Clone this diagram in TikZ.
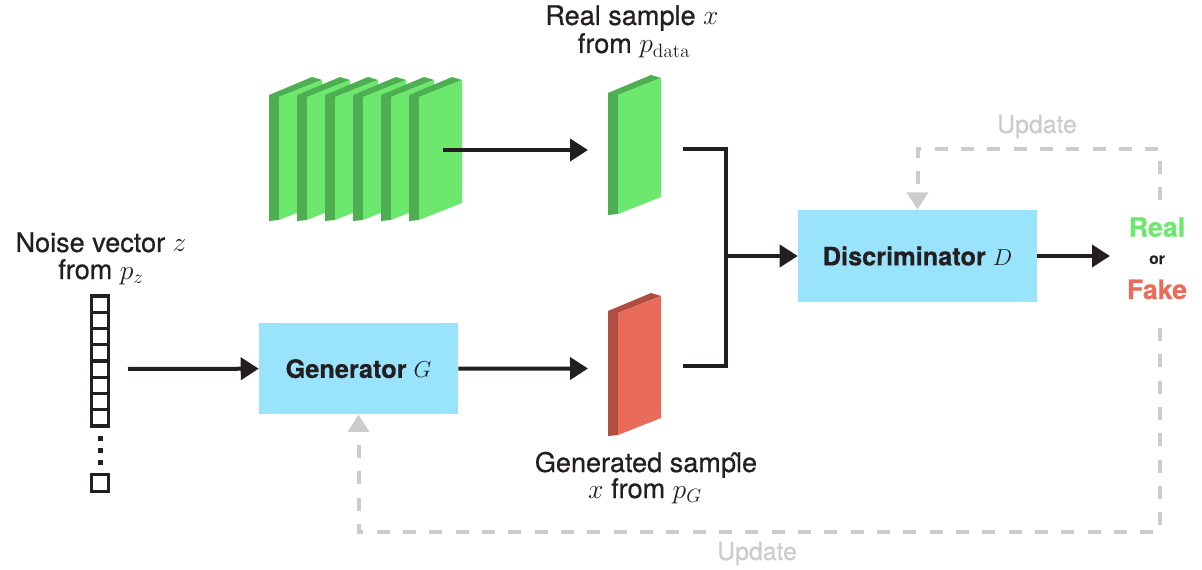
\documentclass[tikz,border=0pt]{standalone}
\usepackage[no-math]{fontspec}
\setmainfont{TeX Gyre Heros}[BoldFeatures={FakeBold=0.5}]
\newfontfamily\medfont{TeX Gyre Heros}[FakeBold=0.6]
\usetikzlibrary{arrows.meta}
\definecolor{ink}{HTML}{231F20}
\definecolor{glight}{HTML}{6DE86F}
\definecolor{gdark}{HTML}{4DAF52}
\definecolor{rlight}{HTML}{E96C5B}
\definecolor{rdark}{HTML}{B04E41}
\definecolor{boxblue}{HTML}{9AE3FD}
\definecolor{dgray}{HTML}{CCCCCC}
\newcommand\slabdraw[5]{%
  \fill[#5] (#1-10,#2+1) -- (#1-10,#2-#3-2) -- (#1+33,#2-#3-20) -- (#1+43,#2-#3-17) -- (#1,#2-#3) -- (#1,#2) -- cycle;
  \fill[#4] (#1,#2) -- (#1,#2-#3) -- (#1+43,#2-#3-17) -- (#1+43,#2-17) -- cycle;
}
\tikzset{
  arr/.style={line width=3pt, draw=ink, -{Triangle[length=13.5pt,width=16.5pt]}},
  plain/.style={line width=3pt, draw=ink, line join=miter},
  darr/.style={line width=3pt, draw=dgray, dash pattern=on 9.75pt off 10pt, -{Triangle[length=13pt,width=15.5pt]}},
  blockbox/.style={fill=boxblue, draw=none, inner sep=0pt, text=ink, font=\fontsize{19}{22}\selectfont\bfseries},
  lbl/.style={anchor=base, inner sep=0pt, text=ink, font=\fontsize{20.3}{24}\selectfont\medfont},
  updlbl/.style={anchor=base, inner sep=0pt, text=dgray, font=\fontsize{18.6}{22}\selectfont\medfont},
  cell/.style={draw=ink, line width=2.3pt, minimum width=12.2pt, minimum height=12.2pt, inner sep=0pt},
}
\begin{document}
\begin{tikzpicture}[x=0.75pt,y=-0.75pt]
\useasboundingbox (0,0) rectangle (1202,570);
\fill[white] (0,0) rectangle (1202,570);

% green stack
\foreach \k in {0,...,5}{\slabdraw{279+28*\k}{220}{123}{glight}{gdark}}
% real sample slab
\slabdraw{618}{214}{119}{glight}{gdark}
% generated sample slab
\slabdraw{618}{435}{122}{rlight}{rdark}

% boxes
\node[blockbox, minimum width=149.25pt, minimum height=68.25pt] (G) at (358.5,368.7) {Generator $G$};
\node[blockbox, minimum width=179.25pt, minimum height=69pt] (D) at (917.5,256) {Discriminator $D$};

% noise vector
\foreach \i in {0,...,7}{\node[cell] (c\i) at (100,304.1+16.25*\i) {};}
\node[cell] (clast) at (100,483) {};
\foreach \yy in {438,450,462}{\fill[ink] (98,\yy-2.5) rectangle (102.5,\yy+2.5);}

% labels
\node[lbl] (noise1) at (101,252) {Noise vector $z$};
\node[lbl] (noise2) at (101,279) {from $p_z$};
\node[lbl] (real1) at (632,25) {Real sample $x$};
\node[lbl] (real2) at (634,53) {from $p_{\mathrm{data}}$};
\node[lbl] (gen1) at (646,472) {Generated samp\^{l}e};
\node[lbl] (gen2) at (645,498) {$x$ from $p_G$};
\node[anchor=base, inner sep=0pt, text=glight, font=\fontsize{20}{24}\selectfont\bfseries] (realout) at (1157,236.7) {Real};
\node[anchor=base, inner sep=0pt, text=ink, font=\fontsize{11.8}{14}\selectfont\bfseries] (orlbl) at (1157,264) {or};
\node[anchor=base, inner sep=0pt, text=rlight, font=\fontsize{20}{24}\selectfont\bfseries] (fakeout) at (1157,299) {Fake};
\node[updlbl] (upd1) at (1037,133) {Update};
\node[updlbl] (upd2) at (757,560) {Update};

% coordinates
\coordinate (stackout) at (443,150);
\coordinate (realin) at (588,150);
\coordinate (noiseout) at (128,369);
\coordinate (fakein) at (588,368.5);
\coordinate (realsl) at (683,149);
\coordinate (fakesl) at (683,366);
\coordinate (join) at (726,256);
\coordinate (dout) at (1110,256);
\coordinate (updtop) at (1160,200);
\coordinate (updbot) at (1160,328);

% connectors
\draw[arr] (stackout) -- (realin);
\draw[arr] (noiseout) -- (G.west);
\draw[arr] (G.east) -- (fakein);
\draw[plain] (realsl) -| (join) |- (fakesl);
\draw[arr] (join) -- (D.west);
\draw[arr] (D.east) -- (dout);
\draw[darr] (updtop) -- (1160,149) -| (D.north);
\draw[darr] (updbot) -- (1160,532) -| (G.south);
\end{tikzpicture}
\end{document}
